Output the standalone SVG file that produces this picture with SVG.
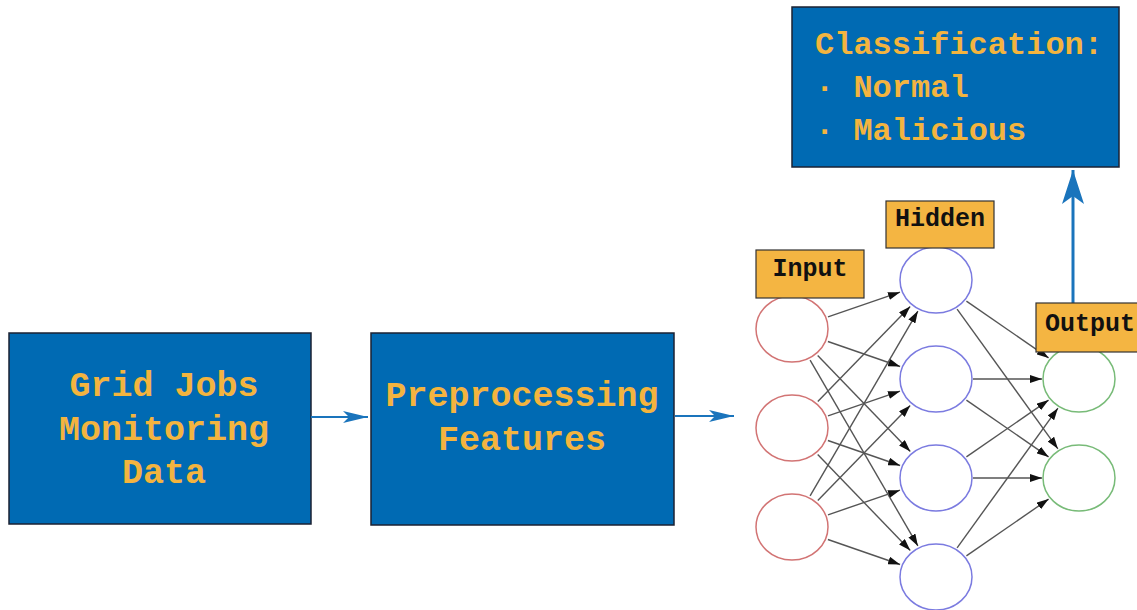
<svg xmlns="http://www.w3.org/2000/svg" width="1137" height="610" viewBox="0 0 1137 610">
<style>
.box{fill:#006AB3;stroke:#1b2233;stroke-width:1.5}
.bt{font-family:"Liberation Mono","Courier New",monospace;font-weight:bold;fill:#F3B43F;text-anchor:middle}
.lab{fill:#F4B542;stroke:#333;stroke-width:1.2}
.lt{font-family:"Liberation Mono","Courier New",monospace;font-weight:bold;font-size:25px;fill:#111;text-anchor:middle}
.in{fill:#fff;stroke:#D27474;stroke-width:1.5}
.hid{fill:#fff;stroke:#7B7BE0;stroke-width:1.5}
.out{fill:#fff;stroke:#78BB78;stroke-width:1.5}
.nn line{stroke:#555;stroke-width:1.4;marker-end:url(#ah)}
.flow{stroke:#1A74BC;fill:none}
</style>
<defs>
<marker id="ah" viewBox="0 0 12 8" refX="12" refY="4" markerWidth="12" markerHeight="8" markerUnits="userSpaceOnUse" orient="auto">
<path d="M0,0 L12,4 L0,8 Z" fill="#111"/>
</marker>
<marker id="bh" viewBox="0 0 25 12" refX="25" refY="6" markerWidth="25" markerHeight="12" markerUnits="userSpaceOnUse" orient="auto">
<path d="M0,0 L25,6 L0,12 L6,6 Z" fill="#1A74BC"/>
</marker>
<marker id="bh2" viewBox="0 0 34 22" refX="34" refY="11" markerWidth="34" markerHeight="22" markerUnits="userSpaceOnUse" orient="auto">
<path d="M0,0 L34,11 L0,22 L8,11 Z" fill="#1A74BC"/>
</marker>
</defs>
<rect width="1137" height="610" fill="#fff"/>

<g id="grid-jobs">
<rect class="box" x="9" y="333" width="302" height="191"/>
<text class="bt" font-size="35" x="164" y="396">Grid Jobs</text>
<text class="bt" font-size="35" x="164" y="440">Monitoring</text>
<text class="bt" font-size="35" x="164" y="483">Data</text>
</g>

<g id="preprocessing">
<rect class="box" x="371" y="333" width="303" height="192"/>
<text class="bt" font-size="35" x="522" y="406">Preprocessing</text>
<text class="bt" font-size="35" x="522" y="450">Features</text>
</g>

<g id="classification">
<rect class="box" x="792" y="7" width="327" height="160"/>
<text class="bt" font-size="32" x="959" y="54">Classification:</text>
<text class="bt" font-size="32" x="815" y="97" style="text-anchor:start">· Normal</text>
<text class="bt" font-size="32" x="815" y="140" style="text-anchor:start">· Malicious</text>
</g>

<g id="neural-network">
<g id="input-nodes">
<ellipse class="in" cx="792" cy="329" rx="36" ry="33"/>
<ellipse class="in" cx="792" cy="428" rx="36" ry="33"/>
<ellipse class="in" cx="792" cy="527" rx="36" ry="33"/>
</g>
<g id="hidden-nodes">
<ellipse class="hid" cx="936" cy="280" rx="36" ry="33"/>
<ellipse class="hid" cx="936" cy="379" rx="36" ry="33"/>
<ellipse class="hid" cx="936" cy="478" rx="36" ry="33"/>
<ellipse class="hid" cx="936" cy="577" rx="36" ry="33"/>
</g>
<g id="output-nodes">
<ellipse class="out" cx="1079" cy="379" rx="36" ry="33"/>
<ellipse class="out" cx="1079" cy="478" rx="36" ry="33"/>
</g>
</g>

<g id="connectors">
<line class="flow" stroke-width="1.8" x1="311" y1="417" x2="368" y2="417" marker-end="url(#bh)"/>
<line class="flow" stroke-width="1.8" x1="675" y1="416" x2="734" y2="416" marker-end="url(#bh)"/>
<line class="flow" stroke-width="3" x1="1073" y1="303" x2="1073" y2="170" marker-end="url(#bh2)"/>
<g class="nn">
<line x1="828" y1="316.8" x2="900" y2="292.2"/>
<line x1="827.9" y1="341.5" x2="900.1" y2="366.5"/>
<line x1="817.7" y1="355.6" x2="910.3" y2="451.4"/>
<line x1="810.1" y1="360.1" x2="917.9" y2="545.9"/>
<line x1="817.8" y1="401.5" x2="910.2" y2="306.5"/>
<line x1="828" y1="415.8" x2="900" y2="391.2"/>
<line x1="827.9" y1="440.5" x2="900.1" y2="465.5"/>
<line x1="817.7" y1="454.6" x2="910.3" y2="550.4"/>
<line x1="810.1" y1="495.9" x2="917.9" y2="311.1"/>
<line x1="817.8" y1="500.5" x2="910.2" y2="405.5"/>
<line x1="828" y1="514.8" x2="900" y2="490.2"/>
<line x1="827.9" y1="539.5" x2="900.1" y2="564.5"/>
<line x1="966.4" y1="301.1" x2="1048.6" y2="357.9"/>
<line x1="957.1" y1="309.2" x2="1057.9" y2="448.8"/>
<line x1="973" y1="379" x2="1042" y2="379"/>
<line x1="966.4" y1="400.1" x2="1048.6" y2="456.9"/>
<line x1="966.4" y1="456.9" x2="1048.6" y2="400.1"/>
<line x1="973" y1="478" x2="1042" y2="478"/>
<line x1="957.1" y1="547.8" x2="1057.9" y2="408.2"/>
<line x1="966.4" y1="555.9" x2="1048.6" y2="499.1"/>
</g>
</g>

<g id="label-input">
<rect class="lab" x="756" y="250" width="108" height="48"/>
<text class="lt" x="810" y="276">Input</text>
</g>
<g id="label-hidden">
<rect class="lab" x="886" y="201" width="108" height="47"/>
<text class="lt" x="940" y="226">Hidden</text>
</g>
<g id="label-output">
<rect class="lab" x="1036" y="303" width="108" height="49"/>
<text class="lt" x="1090" y="331">Output</text>
</g>
</svg>
